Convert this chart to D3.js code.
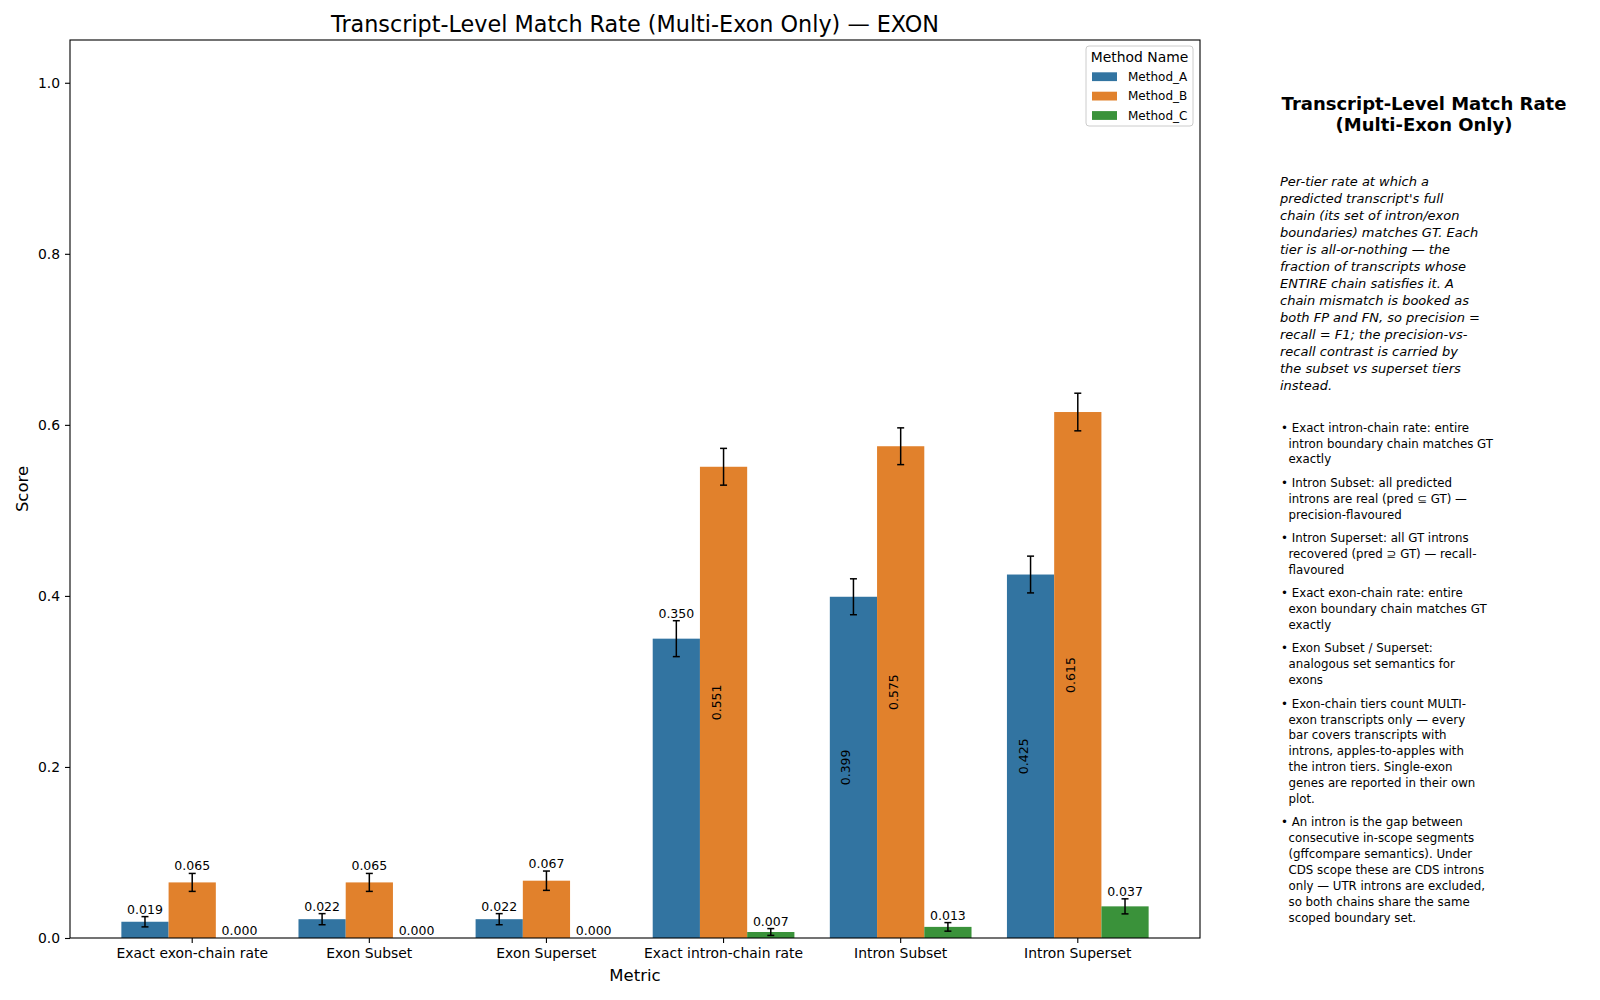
<!DOCTYPE html>
<html><head><meta charset="utf-8">
<script src="https://cdn.jsdelivr.net/npm/d3@7"></script>
<style>
body{margin:0;background:#fff;}
svg text{font-family:"DejaVu Sans",sans-serif;}
</style></head>
<body>
<svg id="chart" width="1600" height="1000"></svg>
<script>
const categories = ["Exact exon-chain rate","Exon Subset","Exon Superset","Exact intron-chain rate","Intron Subset","Intron Superset"];
const methods = ["Method_A","Method_B","Method_C"];
const valuesA = [0.019,0.022,0.022,0.350,0.399,0.425];
const valuesB = [0.065,0.065,0.067,0.551,0.575,0.615];
const valuesC = [0.000,0.000,0.000,0.007,0.013,0.037];
const errA = [0.006,0.0065,0.0065,0.021,0.021,0.0215];
const errB = [0.0105,0.0105,0.0113,0.0215,0.0215,0.022];
const errC = [0,0,0,0.004,0.005,0.0088];
const yTicks = [0.0,0.2,0.4,0.6,0.8,1.0];
const colors = ["#3274a1","#e1812c","#3a923a"];
const titleText = "Transcript-Level Match Rate (Multi-Exon Only) \u2014 EXON";
const panelTitle = ["Transcript-Level Match Rate","(Multi-Exon Only)"];
const panelPara = ["Per-tier rate at which a","predicted transcript's full","chain (its set of intron/exon","boundaries) matches GT. Each","tier is all-or-nothing \u2014 the","fraction of transcripts whose","ENTIRE chain satisfies it. A","chain mismatch is booked as","both FP and FN, so precision =","recall = F1; the precision-vs-","recall contrast is carried by","the subset vs superset tiers","instead."];
const bullets = [
 ["\u2022 Exact intron-chain rate: entire","  intron boundary chain matches GT","  exactly"],
 ["\u2022 Intron Subset: all predicted","  introns are real (pred \u2286 GT) \u2014","  precision-flavoured"],
 ["\u2022 Intron Superset: all GT introns","  recovered (pred \u2287 GT) \u2014 recall-","  flavoured"],
 ["\u2022 Exact exon-chain rate: entire","  exon boundary chain matches GT","  exactly"],
 ["\u2022 Exon Subset / Superset:","  analogous set semantics for","  exons"],
 ["\u2022 Exon-chain tiers count MULTI-","  exon transcripts only \u2014 every","  bar covers transcripts with","  introns, apples-to-apples with","  the intron tiers. Single-exon","  genes are reported in their own","  plot."],
 ["\u2022 An intron is the gap between","  consecutive in-scope segments","  (gffcompare semantics). Under","  CDS scope these are CDS introns","  only \u2014 UTR introns are excluded,","  so both chains share the same","  scoped boundary set."]
];

const seriesVals = [valuesA, valuesB, valuesC];
const seriesErr = [errA, errB, errC];
const data = [];
categories.forEach((c,i)=>methods.forEach((m,j)=>data.push({cat:c,m:m,j:j,v:seriesVals[j][i],e:seriesErr[j][i]})));

const svg = d3.select("#chart");
svg.append("rect").attr("width",1600).attr("height",1000).attr("fill","#fff");
const L=70,R=1200,T=40,B=938;
const x = d3.scaleBand().domain(categories).range([L,R]).paddingInner(0.2).paddingOuter(0.29);
const xm = d3.scaleBand().domain(methods).range([0,x.bandwidth()]).padding(0);
const y = d3.scaleLinear().domain([0,1.05]).range([B,T]);

const g = svg.append("g");
g.selectAll("rect.bar").data(data).join("rect").attr("class","bar")
 .attr("x",d=>x(d.cat)+xm(d.m)).attr("width",xm.bandwidth())
 .attr("y",d=>y(d.v)).attr("height",d=>y(0)-y(d.v))
 .attr("fill",d=>colors[d.j]);
const eb = g.selectAll("g.err").data(data.filter(d=>d.e>0)).join("g").attr("class","err");
const cx = d=>x(d.cat)+xm(d.m)+xm.bandwidth()/2;
eb.append("line").attr("x1",cx).attr("x2",cx).attr("y1",d=>y(d.v-d.e)).attr("y2",d=>y(d.v+d.e)).attr("stroke","#000").attr("stroke-width",1.5);
eb.append("line").attr("x1",d=>cx(d)-3.5).attr("x2",d=>cx(d)+3.5).attr("y1",d=>y(d.v-d.e)).attr("y2",d=>y(d.v-d.e)).attr("stroke","#000").attr("stroke-width",1.5);
eb.append("line").attr("x1",d=>cx(d)-3.5).attr("x2",d=>cx(d)+3.5).attr("y1",d=>y(d.v+d.e)).attr("y2",d=>y(d.v+d.e)).attr("stroke","#000").attr("stroke-width",1.5);
const inside = 0.375;
g.selectAll("text.val").data(data).join("text").attr("class","val")
 .attr("font-size","12.5px").attr("fill","#000").attr("text-anchor","middle")
 .attr("transform",d=>d.v>inside ? `translate(${cx(d)-3},${(y(d.v)+y(0))/2}) rotate(-90)` : `translate(${cx(d)},${y(d.v+d.e)-3})`)
 .text(d=>d.v.toFixed(3));

const xAxis = svg.append("g").attr("transform",`translate(0,${B})`).call(d3.axisBottom(x).tickSize(5).tickPadding(5).tickSizeOuter(0));
const yAxis = svg.append("g").attr("transform",`translate(${L},0)`).call(d3.axisLeft(y).tickValues(yTicks).tickFormat(d3.format(".1f")).tickSize(5).tickPadding(5).tickSizeOuter(0));
[xAxis,yAxis].forEach(a=>{a.select(".domain").remove();a.selectAll("text").attr("font-size","13.9px").attr("fill","#000").attr("font-family","DejaVu Sans");a.selectAll("line").attr("stroke","#000").attr("stroke-width",1.1);});
svg.append("rect").attr("x",L).attr("y",T).attr("width",R-L).attr("height",B-T).attr("fill","none").attr("stroke","#000").attr("stroke-width",1.1);

svg.append("text").attr("x",(L+R)/2).attr("y",981).attr("text-anchor","middle").attr("font-size","16.5px").text("Metric");
svg.append("text").attr("transform",`translate(28,${(T+B)/2}) rotate(-90)`).attr("text-anchor","middle").attr("font-size","16.5px").text("Score");
svg.append("text").attr("x",(L+R)/2).attr("y",31.5).attr("text-anchor","middle").attr("font-size","22.3px").text(titleText);

const lg = svg.append("g");
lg.append("rect").attr("x",1086).attr("y",46).attr("width",107).attr("height",80).attr("rx",3).attr("fill","#fff").attr("fill-opacity",0.8).attr("stroke","#cccccc");
lg.append("text").attr("x",1139.5).attr("y",61.5).attr("text-anchor","middle").attr("font-size","13.9px").text("Method Name");
const ly = d3.scalePoint().domain(methods).range([76.7,115.5]);
methods.forEach((m,j)=>{
  lg.append("rect").attr("x",1092).attr("y",ly(m)-4.4).attr("width",25).attr("height",8.8).attr("fill",colors[j]);
  lg.append("text").attr("x",1128).attr("y",ly(m)+4.3).attr("font-size","12px").text(m);
});

const p = svg.append("g");
panelTitle.forEach((t,i)=>p.append("text").attr("x",1424).attr("y",109.5+i*21.5).attr("text-anchor","middle").attr("font-size","18px").attr("font-weight","bold").text(t));
panelPara.forEach((t,i)=>p.append("text").attr("x",1280).attr("y",185.7+i*17).attr("font-size","13px").attr("font-style","italic").text(t));
let by = 431.6;
bullets.forEach(b=>{
  b.forEach((t,i)=>p.append("text").attr("x",1281).attr("y",by+i*15.9).attr("font-size","11.8px").attr("xml:space","preserve").style("white-space","pre").text(t));
  by += b.length*15.9 + 7.5;
});
</script>
</body></html>
